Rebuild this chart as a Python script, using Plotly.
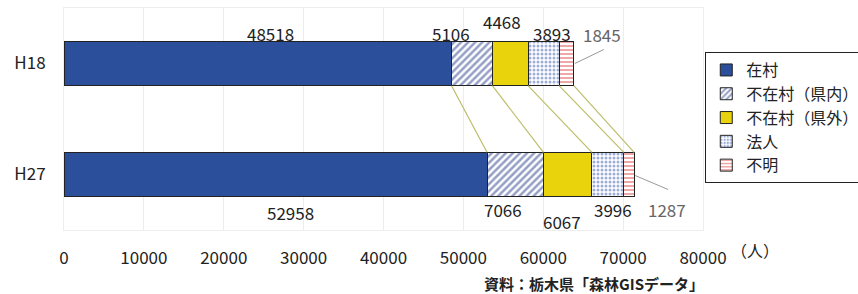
import plotly.graph_objects as go
import numpy as np

years = ["H18", "H27"]
series_names = ["在村", "不在村（県内）", "不在村（県外）", "法人", "不明"]
zaison = [48518, 52958]
kennai = [5106, 7066]
kengai = [4468, 6067]
houjin = [3893, 3996]
fumei = [1845, 1287]
x_ticks = [0, 10000, 20000, 30000, 40000, 50000, 60000, 70000, 80000]

values = [zaison, kennai, kengai, houjin, fumei]
colors = ["#2C4F9C", "#2C4F9C", "#E8D30C", "#3A5BB0", "#D9534F"]
patterns = [
    dict(shape=""),
    dict(shape="/", fgcolor="#2C3F8C", bgcolor="#FFFFFF", size=5, solidity=0.5),
    dict(shape=""),
    dict(shape=".", fgcolor="#3A5BB0", bgcolor="#FFFFFF", size=4, solidity=0.45),
    dict(shape="-", fgcolor="#D9534F", bgcolor="#FFFFFF", size=4, solidity=0.5),
]

FONT = "Noto Sans CJK JP"
fig = go.Figure()
for name, vals, col, pat in zip(series_names, values, colors, patterns):
    fig.add_trace(go.Bar(
        y=years, x=vals, name=name, orientation="h",
        marker=dict(color=col, pattern=pat, line=dict(color="#222222", width=1)),
        width=0.4, hoverinfo="skip",
    ))

# cumulative boundaries
cum = np.cumsum(np.array(values), axis=0)  # shape (5, 2)
starts = cum - np.array(values)

# connector lines between bars
for i in range(len(series_names)):
    fig.add_shape(type="line", xref="x", yref="y",
                  x0=cum[i][0], y0=0.2, x1=cum[i][1], y1=0.8,
                  line=dict(color="#BDBD6A", width=1.2))

# value labels: (series index, year index, xshift, yshift, color)
label_style = [
    (0, 0, 13, 30, "#222"), (1, 0, -21, 30, "#222"), (2, 0, -8, 42, "#222"),
    (3, 0, 8, 30, "#222"), (4, 0, 36, 29, "#666"),
    (0, 1, 15, -38, "#222"), (1, 1, -12, -35, "#222"), (2, 1, -6, -47, "#222"),
    (3, 1, 5, -35, "#222"), (4, 1, 38, -35, "#666"),
]
for si, yi, xs, ys, c in label_style:
    v = values[si][yi]
    fig.add_annotation(x=starts[si][yi] + v / 2, y=yi, xref="x", yref="y",
                       text=str(v), showarrow=False, xshift=xs, yshift=ys,
                       font=dict(size=17, color=c, family=FONT))

# leader lines for the small segment labels
fig.add_shape(type="line", xref="x", yref="y", xsizemode="pixel", ysizemode="pixel",
              xanchor=cum[4][0], yanchor=0, x0=1, x1=30, y0=0, y1=14,
              line=dict(color="#999999", width=1))
fig.add_shape(type="line", xref="x", yref="y", xsizemode="pixel", ysizemode="pixel",
              xanchor=cum[4][1], yanchor=1, x0=1, x1=34, y0=-1, y1=-15,
              line=dict(color="#999999", width=1))

fig.add_annotation(x=1.081, y=-0.09, xref="paper", yref="paper", text="（人）",
                   xanchor="center", yanchor="middle",
                   showarrow=False, font=dict(size=16, color="#222", family=FONT))
fig.add_annotation(x=0.829, y=-0.24, xref="paper", yref="paper",
                   text="<b>資料：栃木県「森林GISデータ」</b>",
                   xanchor="center", yanchor="middle",
                   showarrow=False, font=dict(size=15, color="#222", family=FONT))

fig.update_layout(
    barmode="stack",
    width=858, height=294,
    margin=dict(l=64, r=155, t=8, b=64, autoexpand=False),
    paper_bgcolor="white", plot_bgcolor="white",
    font=dict(family=FONT, color="#222"),
    showlegend=True,
    legend=dict(xref="container", yref="container", x=0.822, y=0.823,
                xanchor="left", yanchor="top",
                bordercolor="#222", borderwidth=1, bgcolor="white",
                font=dict(size=16, family=FONT), traceorder="normal",
                itemwidth=30),
    xaxis=dict(range=[0, 80000], tickvals=x_ticks, ticktext=[str(t) for t in x_ticks],
               showgrid=True, gridcolor="#ECECEC", zeroline=False, automargin=False,
               ticks="outside", ticklen=13, tickcolor="rgba(0,0,0,0)",
               tickfont=dict(size=17, color="#222"), showline=True, linecolor="#EEEEEE",
               mirror=True, fixedrange=True),
    yaxis=dict(categoryorder="array", categoryarray=years, autorange="reversed",
               automargin=False,
               ticks="outside", ticklen=14, tickcolor="rgba(0,0,0,0)",
               tickfont=dict(size=17, color="#222"), showline=True, linecolor="#EEEEEE",
               mirror=True, fixedrange=True),
)

fig.write_html("out.html", config={"displayModeBar": False},
               post_script="document.body.style.margin='0';document.body.style.overflow='hidden';")
